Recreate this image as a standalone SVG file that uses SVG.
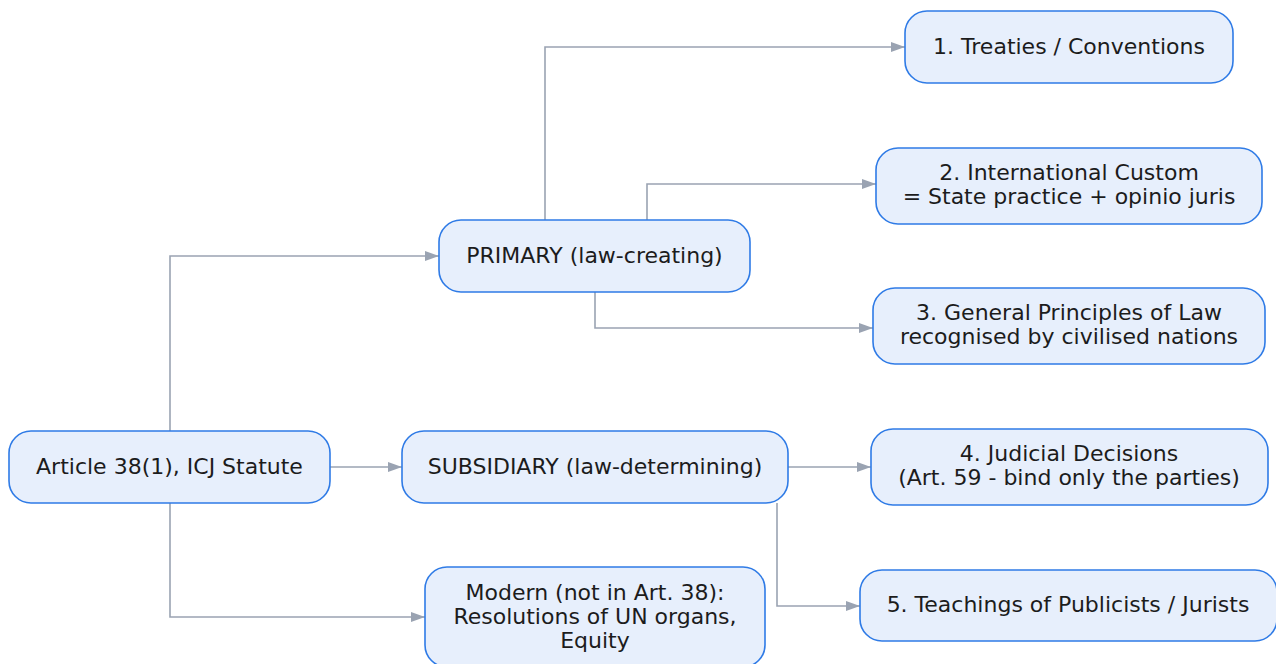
<svg xmlns="http://www.w3.org/2000/svg" width="1276" height="664" viewBox="0 0 1276 664">
<defs>
<marker id="arr" markerWidth="14" markerHeight="10" refX="14" refY="5" orient="auto" markerUnits="userSpaceOnUse">
<path d="M0,0 L14,5 L0,10 Z" fill="#9aa3b2"/>
</marker>
<style>
.n rect{fill:#e7effc;stroke:#2f7be6;stroke-width:1.6}
.n text{font-family:"DejaVu Sans",sans-serif;font-size:22px;fill:#1c1c1c;text-anchor:middle}
#edges path{fill:none;stroke:#9aa3b2;stroke-width:1.6;marker-end:url(#arr)}
</style>
</defs>
<rect width="1276" height="664" fill="#ffffff"/>
<g id="edges">
<path d="M170,431 V256 H439"/>
<path d="M330,467 H402"/>
<path d="M170,503 V617 H425"/>
<path d="M545,220 V47 H905"/>
<path d="M647,220 V184 H876"/>
<path d="M595,292 V328 H873"/>
<path d="M788,467 H871"/>
<path d="M777,503 V606 H860"/>
</g>
<g id="article" class="n"><rect x="9" y="431" width="321" height="72" rx="22"/><text x="169.5" y="473.5">Article 38(1), ICJ Statute</text></g>
<g id="primary" class="n"><rect x="439" y="220" width="311" height="72" rx="22"/><text x="594.5" y="262.5">PRIMARY (law-creating)</text></g>
<g id="subsidiary" class="n"><rect x="402" y="431" width="386" height="72" rx="22"/><text x="595" y="473.5">SUBSIDIARY (law-determining)</text></g>
<g id="modern" class="n"><rect x="425" y="567" width="340" height="100" rx="22"/><text x="595" y="600">Modern (not in Art. 38):</text><text x="595" y="624">Resolutions of UN organs,</text><text x="595" y="648">Equity</text></g>
<g id="treaties" class="n"><rect x="905" y="11" width="328" height="72" rx="22"/><text x="1069" y="53.5">1. Treaties / Conventions</text></g>
<g id="custom" class="n"><rect x="876" y="148" width="386" height="76" rx="22"/><text x="1069" y="179.5">2. International Custom</text><text x="1069" y="203.5">= State practice + opinio juris</text></g>
<g id="principles" class="n"><rect x="873" y="288" width="392" height="76" rx="22"/><text x="1069" y="319.5">3. General Principles of Law</text><text x="1069" y="343.5">recognised by civilised nations</text></g>
<g id="judicial" class="n"><rect x="871" y="429" width="397" height="76" rx="22"/><text x="1069" y="461">4. Judicial Decisions</text><text x="1069" y="485">(Art. 59 - bind only the parties)</text></g>
<g id="teachings" class="n"><rect x="860" y="570" width="417" height="71" rx="22"/><text x="1068" y="612">5. Teachings of Publicists / Jurists</text></g>
</svg>
